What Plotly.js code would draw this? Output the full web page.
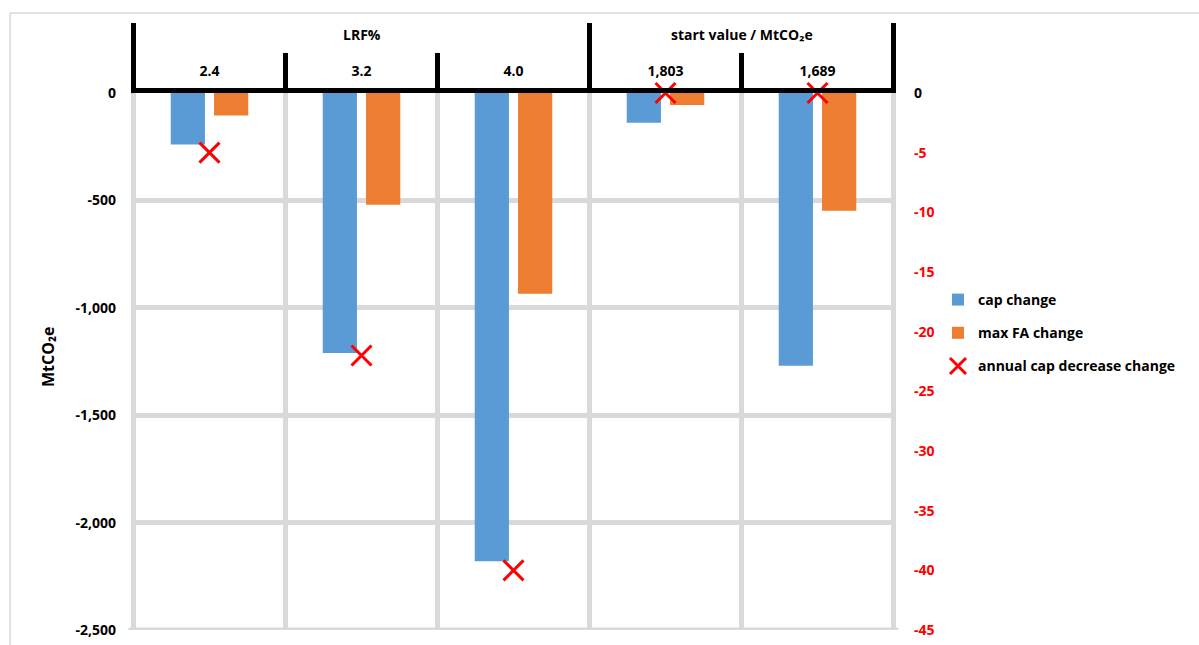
<!DOCTYPE html>
<html>
<head>
<meta charset="utf-8">
<script src="https://cdn.plot.ly/plotly-3.0.1.min.js"></script>
<style>
  html, body { margin: 0; padding: 0; background: #ffffff; }
  #chart { width: 1199px; height: 645px; }
</style>
</head>
<body>
<div id="chart"></div>
<script>
// Scenario categories (LRF% variants, then start-value variants)
const categories = ["2.4", "3.2", "4.0", "1,803", "1,689"];
const groupLabels = ["LRF%", "start value / MtCO\u2082e"];
const groupCenters = [1, 3.5];      // category-index centres of each group
const groupBounds = [-0.5, 2.5, 4.5]; // category-index boundaries of the groups

// Series values (MtCO2e, left axis)
const capChange = [-240, -1210, -2180, -138, -1270];
const maxFAChange = [-105, -520, -935, -56, -548];
// Annual cap decrease change (right axis)
const annualCapDecreaseChange = [-5, -22, -40, 0, 0];

// Axis ticks
const leftTickVals = [0, -500, -1000, -1500, -2000, -2500];
const leftTickText = ["0", "-500", "-1,000", "-1,500", "-2,000", "-2,500"];
const rightTickVals = [0, -5, -10, -15, -20, -25, -30, -35, -40, -45];
const rightTickText = ["<span style=\"color:#000000\">0</span>", "-5", "-10", "-15", "-20", "-25", "-30", "-35", "-40", "-45"];

const FONT = "'Open Sans', Lato, sans-serif";
const GRID = "#d9d9d9";
const FS = 14;

const traces = [
  {
    type: "bar", name: "cap change", x: categories, y: capChange,
    marker: { color: "#5B9BD5" }, legendgroup: "a", hoverinfo: "x+y"
  },
  {
    type: "bar", name: "max FA change", x: categories, y: maxFAChange,
    marker: { color: "#ED7D31" }, legendgroup: "b", hoverinfo: "x+y"
  },
  {
    type: "scatter", mode: "markers", name: "annual cap decrease change",
    x: categories, y: annualCapDecreaseChange, yaxis: "y2", legendgroup: "c",
    marker: { symbol: "x-thin", size: 20, color: "#FF0000", line: { color: "#FF0000", width: 3 } },
    cliponaxis: false
  }
];

// Paper coordinates for pixel-based decorations
const plotTop = 93, plotBottom = 630, plotLeft = 131, plotRight = 896;
const py = p => (plotBottom - p) / (plotBottom - plotTop);
const px = p => (p - plotLeft) / (plotRight - plotLeft);

const shapes = [
  // outer chart frame
  { type: "line", xref: "paper", yref: "paper", x0: px(10), x1: px(1260), y0: py(13), y1: py(13),
    line: { color: GRID, width: 1.5 }, layer: "below" },
  { type: "line", xref: "paper", yref: "paper", x0: px(10), x1: px(10), y0: py(13), y1: py(700),
    line: { color: GRID, width: 1.5 }, layer: "below" },
  // bottom grid line at the end of the value range
  { type: "line", xref: "paper", yref: "y", x0: px(128.5), x1: px(898.5), y0: -2500, y1: -2500,
    line: { color: GRID, width: 5 }, layer: "below" }
];
// tall dividers between the two category groups
groupBounds.forEach(b => shapes.push({
  type: "line", xref: "x", yref: "paper", x0: b, x1: b, y0: 1, y1: py(23),
  line: { color: "#000000", width: 5 }, layer: "above"
}));

const annotations = groupLabels.map((t, i) => ({
  text: t, xref: "x", yref: "paper", x: groupCenters[i], y: py(34),
  showarrow: false, xanchor: "center", yanchor: "middle",
  font: { family: FONT, size: FS, color: "#000000", weight: 700 }
}));
annotations.push({
  text: "MtCO\u2082e", xref: "paper", yref: "paper", x: px(48), y: py(357),
  showarrow: false, textangle: -90, xanchor: "center", yanchor: "middle",
  font: { family: FONT, size: 16, color: "#000000", weight: 700 }
});

const layout = {
  width: 1199, height: 645,
  margin: { l: plotLeft, r: 1199 - plotRight, t: plotTop, b: 645 - plotBottom, pad: 0 },
  paper_bgcolor: "#ffffff", plot_bgcolor: "#ffffff",
  font: { family: FONT, size: FS, color: "#000000", weight: 700 },
  barmode: "group", bargap: 0.43, bargroupgap: 0.21,
  showlegend: true,
  legend: {
    x: px(938), y: py(284), xanchor: "left", yanchor: "top",
    traceorder: "grouped", tracegroupgap: 12,
    font: { family: FONT, size: FS, color: "#000000", weight: 700 },
    bgcolor: "rgba(0,0,0,0)"
  },
  xaxis: {
    type: "category", side: "top", tickson: "boundaries",
    showline: true, linecolor: "#000000", linewidth: 5,
    ticks: "outside", ticklen: 35, tickwidth: 5, tickcolor: "#000000",
    showgrid: true, gridcolor: GRID, gridwidth: 5,
    ticklabelstandoff: 6,
    tickfont: { family: FONT, size: FS, color: "#000000", weight: 700 },
    fixedrange: true
  },
  yaxis: {
    range: [-2500, 0], tickvals: leftTickVals, ticktext: leftTickText,
    showgrid: true, gridcolor: GRID, gridwidth: 5, zeroline: false,
    showline: false, ticks: "", ticklabelstandoff: 14,
    tickfont: { family: FONT, size: FS, color: "#000000", weight: 700 },
    fixedrange: true
  },
  yaxis2: {
    overlaying: "y", side: "right", range: [-45, 0],
    tickvals: rightTickVals, ticktext: rightTickText,
    showgrid: false, zeroline: false, showline: false, ticks: "",
    ticklabelstandoff: 17,
    tickfont: { family: FONT, size: FS, color: "#FF0000", weight: 700 },
    fixedrange: true
  },
  shapes: shapes,
  annotations: annotations
};

Plotly.newPlot("chart", traces, layout, { displayModeBar: false, staticPlot: true });
</script>
</body>
</html>
